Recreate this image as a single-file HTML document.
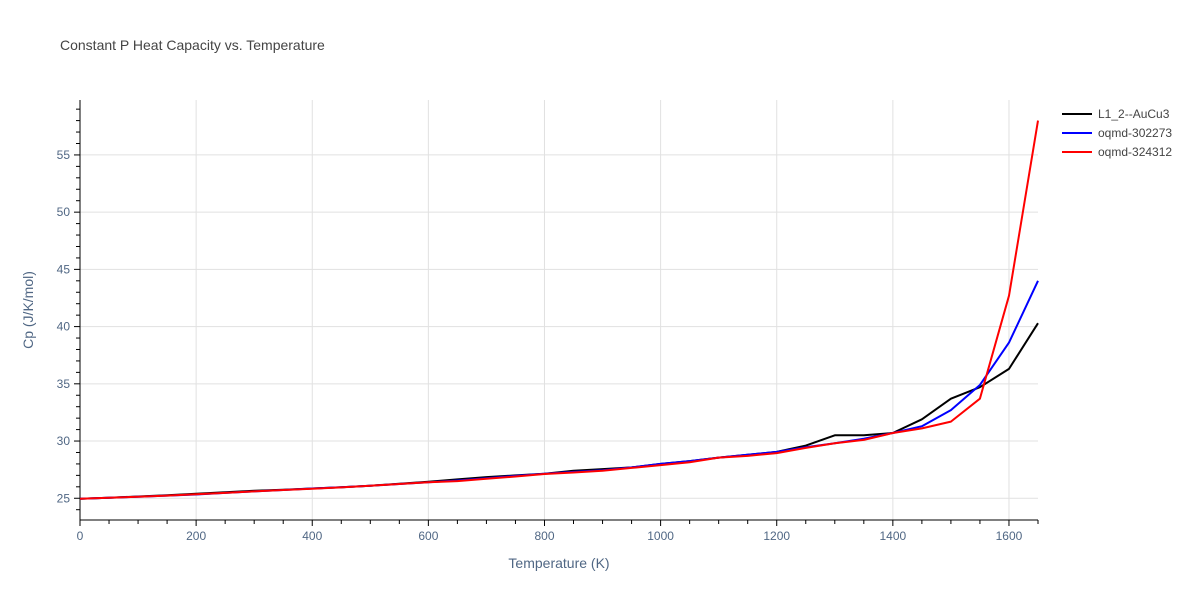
<!DOCTYPE html>
<html><head><meta charset="utf-8"><style>
body{margin:0;background:#fff;font-family:"Liberation Sans",Arial,sans-serif}
svg text{font-family:"Liberation Sans",Arial,sans-serif}
</style></head><body>
<svg id="chart" width="1200" height="600" xmlns="http://www.w3.org/2000/svg">
<rect width="1200" height="600" fill="#fff"/>
<text x="60" y="50" font-size="14" fill="#444">Constant P Heat Capacity vs. Temperature</text>
<g id="grid"></g><g id="axes"></g><g id="series"></g><g id="legend"></g>
<text x="559" y="568" font-size="14" fill="#506784" text-anchor="middle">Temperature (K)</text>
<text transform="translate(33,310) rotate(-90)" font-size="14" fill="#506784" text-anchor="middle">Cp (J/K/mol)</text>
</svg>
<script>
const temps = [0,50,100,150,200,250,300,350,400,450,500,550,600,650,700,750,800,850,900,950,1000,1050,1100,1150,1200,1250,1300,1350,1400,1450,1500,1550,1600,1650];
const seriesNames = ["L1_2--AuCu3","oqmd-302273","oqmd-324312"];
const seriesColors = ["#000000","#0000ff","#ff0000"];
const cpBlack = [24.95,25.05,25.15,25.27,25.4,25.52,25.65,25.75,25.85,25.97,26.1,26.27,26.45,26.65,26.85,27.0,27.15,27.4,27.55,27.7,28.0,28.25,28.55,28.8,29.05,29.6,30.5,30.5,30.7,31.9,33.7,34.7,36.3,40.3];
const cpBlue = [24.95,25.05,25.13,25.23,25.33,25.47,25.6,25.72,25.85,25.97,26.1,26.25,26.4,26.55,26.75,26.95,27.15,27.3,27.45,27.7,28.0,28.25,28.55,28.8,29.05,29.45,29.8,30.2,30.7,31.3,32.7,34.9,38.6,44.0];
const cpRed = [24.95,25.05,25.13,25.23,25.35,25.47,25.6,25.72,25.83,25.95,26.1,26.25,26.4,26.5,26.7,26.9,27.12,27.25,27.4,27.65,27.9,28.15,28.55,28.7,28.95,29.4,29.8,30.1,30.7,31.1,31.7,33.7,42.7,58.0];
const xTicks = [0,200,400,600,800,1000,1200,1400,1600];
const yTicks = [25,30,35,40,45,50,55];
const NS="http://www.w3.org/2000/svg";
const X0=80,X1=1038,Y0=520,Y1=100;
const xMin=0,xMax=1650,yMin=23.1,yMax=59.8;
const xs=v=>X0+(v-xMin)/(xMax-xMin)*(X1-X0);
const ys=v=>Y0-(v-yMin)/(yMax-yMin)*(Y0-Y1);
function mk(tag,attrs,parent){const e=document.createElementNS(NS,tag);for(const k in attrs)e.setAttribute(k,attrs[k]);parent.appendChild(e);return e;}
const grid=document.getElementById('grid'),axes=document.getElementById('axes'),ser=document.getElementById('series'),leg=document.getElementById('legend');
xTicks.forEach(t=>{
  const l=mk('line',{x1:xs(t),x2:xs(t),y1:Y1,y2:Y0,stroke:'#e1e1e1','stroke-width':1},grid);
  
  
  const tx=mk('text',{x:xs(t),y:540,'font-size':12,fill:'#506784','text-anchor':'middle'},axes);
  tx.textContent=t;
  
  
});
yTicks.forEach(t=>{
  const l=mk('line',{x1:X0,x2:X1,y1:ys(t),y2:ys(t),stroke:'#e1e1e1','stroke-width':1},grid);
  
  
  const tx=mk('text',{x:70,y:ys(t)+4,'font-size':12,fill:'#506784','text-anchor':'end'},axes);
  tx.textContent=t;
  
  
});
for(let v=24;v<=59;v++){
  const len=(v%5===0)?6:4;
  const l=mk('line',{x1:X0-len,x2:X0,y1:ys(v),y2:ys(v),stroke:'#000','stroke-width':1},axes);
  
  
}
for(let v=0;v<=1650;v+=50){
  const len=(v%200===0)?6:4;
  const l=mk('line',{x1:xs(v),x2:xs(v),y1:Y0,y2:Y0+len,stroke:'#000','stroke-width':1},axes);
  
  
}
const ya=mk('line',{x1:X0,x2:X0,y1:Y1,y2:Y0,stroke:'#000','stroke-width':1},axes);


const xa=mk('line',{x1:X0,x2:X1,y1:Y0,y2:Y0,stroke:'#000','stroke-width':1},axes);


[cpBlack,cpBlue,cpRed].forEach((arr,i)=>{
  const d=arr.map((v,j)=>(j?'L':'M')+xs(temps[j]).toFixed(1)+','+ys(v).toFixed(1)).join(' ');
  const p=mk('path',{d:d,fill:'none',stroke:seriesColors[i],'stroke-width':2,'stroke-linejoin':'round'},ser);
  
  
  const ly=114+i*19;
  const g=mk('g',{},leg);
  
  
  mk('line',{x1:1062,x2:1092,y1:ly,y2:ly,stroke:seriesColors[i],'stroke-width':2},g);
  const t=mk('text',{x:1098,y:ly+4,'font-size':12,fill:'#444'},g);
  t.textContent=seriesNames[i];
});
</script>
</body></html>
